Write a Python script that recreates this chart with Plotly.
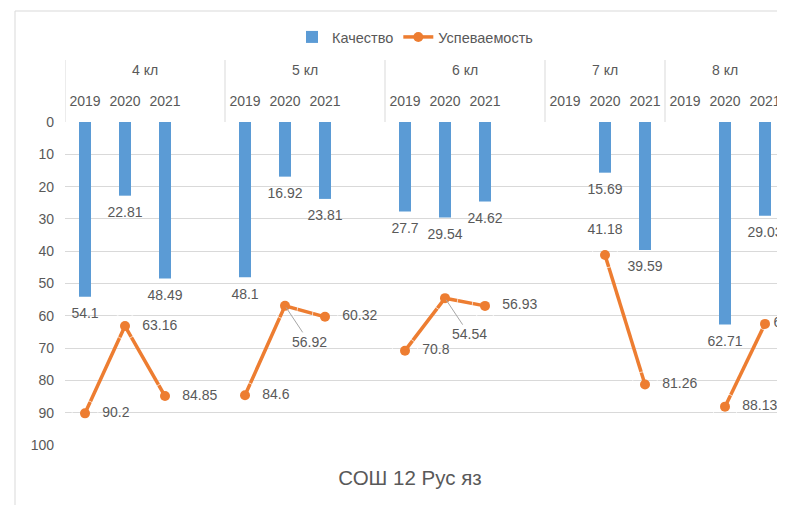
import plotly.graph_objects as go

# ---- data ----
grades = ["4 кл", "5 кл", "6 кл", "7 кл", "8 кл"]
years = ["2019", "2020", "2021"]
quality = [
    [54.1, 22.81, 48.49],
    [48.1, 16.92, 23.81],
    [27.7, 29.54, 24.62],
    [None, 15.69, 39.59],
    [None, 62.71, 29.03],
]
success = [
    [90.2, 63.16, 84.85],
    [84.6, 56.92, 60.32],
    [70.8, 54.54, 56.93],
    [None, 41.18, 81.26],
    [None, 88.13, 62.5],
]
has_spacer = [True, True, True, False, False]   # empty column after group
title_text = "СОШ 12 Рус яз"
series_names = ["Качество", "Успеваемость"]

# ---- build category structure ----
cats, q_vals, s_vals, s_pos, s_text, s_pad = [], [], [], [], [], []
tick_cats, tick_text = [], []
group_span = []          # (first index, last index) per grade
leader = []              # (category index, value) for labels with leader lines
for gi, g in enumerate(grades):
    start = len(cats)
    for yi, y in enumerate(years):
        c = f"{g} {y}"
        cats.append(c)
        tick_cats.append(c)
        tick_text.append(y)
        q_vals.append(quality[gi][yi])
        sv = success[gi][yi]
        s_vals.append(sv)
        s_pad.append(12 if (g, y) == ("8 кл", "2021") else 26)
        if sv is None:
            s_text.append("")
            s_pos.append("middle right")
        elif (g, y) in [("5 кл", "2020"), ("6 кл", "2020")]:
            s_text.append("")
            s_pos.append("middle right")
            leader.append((len(cats) - 1, sv))
        elif (g, y) == ("7 кл", "2020"):
            s_text.append(f"{sv:g}")
            s_pos.append("top center")
        else:
            s_text.append(f"{sv:g}")
            s_pos.append("middle right")
    if has_spacer[gi]:
        cats.append(f"{g} -")
        q_vals.append(None)
        s_vals.append(None)
        s_text.append("")
        s_pos.append("middle right")
        s_pad.append(26)
    group_span.append((start, len(cats) - 1))

q_text = [f"{v:g}" if v is not None else "" for v in q_vals]
n_cat = len(cats)

TXT = "#595959"
GRID = "#d9d9d9"
FONT = "Liberation Sans, Arial, sans-serif"

# page body has an 8px margin: figure coords = window coords - 8
OFF = 8
W, H = 785, 505
PL, PT, PB = 65 - OFF, 122 - OFF, 445 - OFF     # plot edges in figure px
PW = 720
PH = PB - PT
fx = lambda px: (px - OFF - PL) / PW          # window x -> paper
fy = lambda py: (PB - (py - OFF)) / PH        # window y -> paper

fig = go.Figure()
fig.add_trace(go.Bar(
    x=cats, y=q_vals, name=series_names[0],
    marker=dict(color="#5B9BD5", line=dict(width=0)),
    width=0.3, hoverinfo="x+y",
))
fig.add_trace(go.Scatter(
    x=cats, y=s_vals, name=series_names[1],
    mode="lines+markers",
    line=dict(color="#ED7D31", width=3.5),
    marker=dict(color="#ED7D31", size=10),
    connectgaps=False,
))
# data labels for bars (below bar ends)
fig.add_trace(go.Scatter(
    x=cats, y=q_vals, mode="markers+text", showlegend=False, hoverinfo="skip",
    marker=dict(size=16, color="rgba(0,0,0,0)"),
    text=q_text, textposition="bottom center", cliponaxis=False,
    textfont=dict(color=TXT, size=14, family=FONT),
))
# data labels for line
fig.add_trace(go.Scatter(
    x=cats, y=s_vals, mode="markers+text", showlegend=False, hoverinfo="skip",
    marker=dict(size=s_pad, color="rgba(0,0,0,0)"),
    text=s_text, textposition=s_pos, cliponaxis=False,
    textfont=dict(color=TXT, size=14, family=FONT),
))

annotations = []
for idx, v in leader:
    annotations.append(dict(
        x=idx, y=v, xref="x", yref="y", text=f"{v:g}",
        showarrow=True, arrowhead=0, arrowwidth=1, arrowcolor="#a6a6a6",
        ax=24, ay=36, standoff=2,
        font=dict(color=TXT, size=14, family=FONT),
    ))
for g, (a, b) in zip(grades, group_span):
    annotations.append(dict(
        x=(a + b) / 2, y=fy(70), xref="x", yref="paper", text=g,
        showarrow=False, xanchor="center", yanchor="middle",
        font=dict(color=TXT, size=14, family=FONT),
    ))

shapes = [
    dict(type="line", xref="paper", yref="paper",
         x0=fx(15), x1=fx(15), y0=fy(520), y1=fy(11),
         line=dict(color=GRID, width=1)),
    dict(type="line", xref="paper", yref="paper",
         x0=fx(15), x1=fx(800), y0=fy(11), y1=fy(11),
         line=dict(color=GRID, width=1)),
]
bounds = [-0.5] + [b + 0.5 for (_, b) in group_span]
for xb in bounds:
    shapes.append(dict(type="line", xref="x", yref="paper",
                       x0=xb, x1=xb, y0=1, y1=fy(60),
                       line=dict(color=GRID, width=1)))

fig.update_layout(
    width=W, height=H,
    margin=dict(l=PL, r=W - PL - PW, t=PT, b=H - PB, autoexpand=False),
    paper_bgcolor="white", plot_bgcolor="white",
    font=dict(family=FONT, color=TXT, size=14),
    title=dict(text=title_text, x=(410 - OFF) / W, xanchor="center",
               y=1 - (478 - OFF) / H, yanchor="middle",
               font=dict(size=20.5, color=TXT, family=FONT)),
    legend=dict(orientation="h", x=(415 - OFF) / W, xanchor="center", xref="container",
                y=1 - (37 - OFF) / H, yanchor="middle", yref="container",
                font=dict(size=14.5, color=TXT, family=FONT)),
    showlegend=True,
    bargap=0.7,
    annotations=annotations,
    shapes=shapes,
)
fig.update_xaxes(
    type="category", categoryorder="array", categoryarray=cats,
    side="top", showgrid=False, showline=False, zeroline=False,
    range=[-0.5, n_cat - 0.5],
    tickmode="array", tickvals=tick_cats, ticktext=tick_text,
    tickfont=dict(size=14, color=TXT, family=FONT), ticks="",
    tickangle=0, ticklabelstandoff=12, automargin=False,
)
fig.update_yaxes(
    range=[100, 0], tickvals=list(range(0, 101, 10)),
    showgrid=True, gridcolor=GRID, gridwidth=1, zeroline=False,
    showline=False, ticklabelstandoff=10, automargin=False,
    tickfont=dict(size=14, color=TXT, family=FONT),
)

fig.write_html("out.html")
